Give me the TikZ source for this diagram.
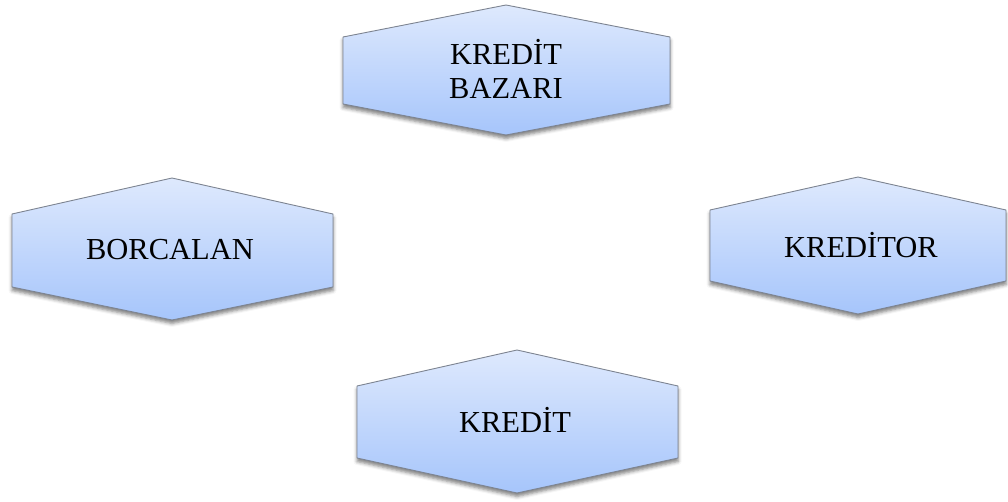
\documentclass[tikz,border=0pt]{standalone}
\usepackage{fontspec}
\setmainfont{Liberation Serif}
\usetikzlibrary{shadows.blur}

\definecolor{hextop}{RGB}{222,233,253}
\definecolor{hexbottom}{RGB}{166,197,251}
\definecolor{hexline}{RGB}{125,132,145}

% Stretched hexagon with pointed top and bottom:
% #1 centre x, #2 left x, #3 right x, #4 top tip y, #5 upper side y, #6 lower side y, #7 bottom tip y
\newcommand\hexshape[7]{%
  \path[hexfill] (#2,#5) -- (#1,#4) -- (#3,#5) -- (#3,#6) -- (#1,#7) -- (#2,#6) -- cycle;%
}

\tikzset{
  hexfill/.style={draw=hexline, line width=0.9pt, line join=round,
    top color=hextop, bottom color=hexbottom,
    blur shadow={shadow xshift=0pt, shadow yshift=-3.5pt,
      shadow blur radius=3.5pt, shadow opacity=50}},
  hextext/.style={font=\fontsize{30.5}{34}\selectfont, text=black, align=center,
    inner sep=0pt}
}

\begin{document}
\begin{tikzpicture}[x=1pt, y=1pt]
  \useasboundingbox (0,0) rectangle (1008,501);

  % credit market (top)
  \hexshape{506}{343}{670}{496}{464}{397}{366}
  \node[hextext] (bazar) at (506,432) {KREDİT\\BAZARI};

  % borrower (left)
  \hexshape{172}{12}{333}{323}{287}{214}{181}
  \node[hextext, anchor=base] (borcalan) at (170,241) {BORCALAN};

  % creditor (right)
  \hexshape{858}{710}{1006}{324}{291}{220}{187}
  \node[hextext, anchor=base] (kreditor) at (861,243) {KREDİTOR};

  % credit (bottom)
  \hexshape{517}{357}{678}{151}{115}{43}{8}
  \node[hextext, anchor=base] (kredit) at (515,69) {KREDİT};
\end{tikzpicture}
\end{document}
